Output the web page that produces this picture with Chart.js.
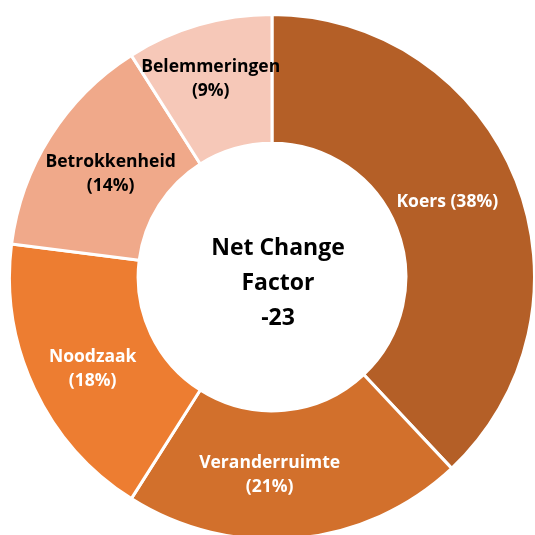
<!DOCTYPE html>
<html>
<head>
<meta charset="utf-8">
<script src="https://cdn.jsdelivr.net/npm/chart.js@4/dist/chart.umd.min.js"></script>
<style>
  html, body { margin: 0; padding: 0; background: #fff; overflow: hidden; }
  #wrap { position: absolute; left: 8px; top: 13px; width: 528px; height: 528px; }
</style>
</head>
<body>
<div id="wrap"><canvas id="chart"></canvas></div>
<script>
const categories = ['Koers', 'Veranderruimte', 'Noodzaak', 'Betrokkenheid', 'Belemmeringen'];
const shares = [38, 21, 18, 14, 9];
const sliceColors = ['#B45F27', '#D2702C', '#ED7D31', '#F0A98A', '#F6C8B8'];
const labelColors = ['#ffffff', '#ffffff', '#ffffff', '#000000', '#000000'];
const centerLines = ['Net Change', 'Factor', '-23'];

// small nudges so labels sit where Excel put them
const nudge = [[-9, -2], [-21, 1], [0, 8], [6, 3], [-6, -8]];

// Draws "Naam (xx%)" on each slice and the text in the hole
const sliceLabels = {
  id: 'sliceLabels',
  afterDatasetsDraw(chart) {
    const ctx = chart.ctx;
    const meta = chart.getDatasetMeta(0);
    ctx.save();
    ctx.textAlign = 'center';
    ctx.textBaseline = 'middle';
    ctx.font = 'bold 17.5px "Open Sans", sans-serif';
    meta.data.forEach((arc, i) => {
      const p = arc.getCenterPoint();
      const x = p.x + nudge[i][0], y = p.y + nudge[i][1];
      ctx.fillStyle = labelColors[i];
      if (i === 0) {
        ctx.fillText(categories[i] + ' (' + shares[i] + '%)', x, y);
      } else {
        ctx.fillText(categories[i], x, y - 12);
        ctx.fillText('(' + shares[i] + '%)', x, y + 12);
      }
    });
    const c = meta.data[0];
    ctx.fillStyle = '#000';
    ctx.font = 'bold 23px "Open Sans", sans-serif';
    centerLines.forEach((t, i) => {
      ctx.fillText(t, c.x + 6, c.y - 29 + i * 35);
    });
    ctx.restore();
  }
};

new Chart(document.getElementById('chart'), {
  type: 'doughnut',
  data: {
    labels: categories,
    datasets: [{
      data: shares,
      backgroundColor: sliceColors,
      borderColor: '#ffffff',
      borderWidth: 3
    }]
  },
  options: {
    responsive: true,
    maintainAspectRatio: false,
    animation: false,
    cutout: '51%',
    layout: { padding: 0 },
    plugins: {
      legend: { display: false },
      tooltip: { enabled: false }
    }
  },
  plugins: [sliceLabels]
});
</script>
</body>
</html>
